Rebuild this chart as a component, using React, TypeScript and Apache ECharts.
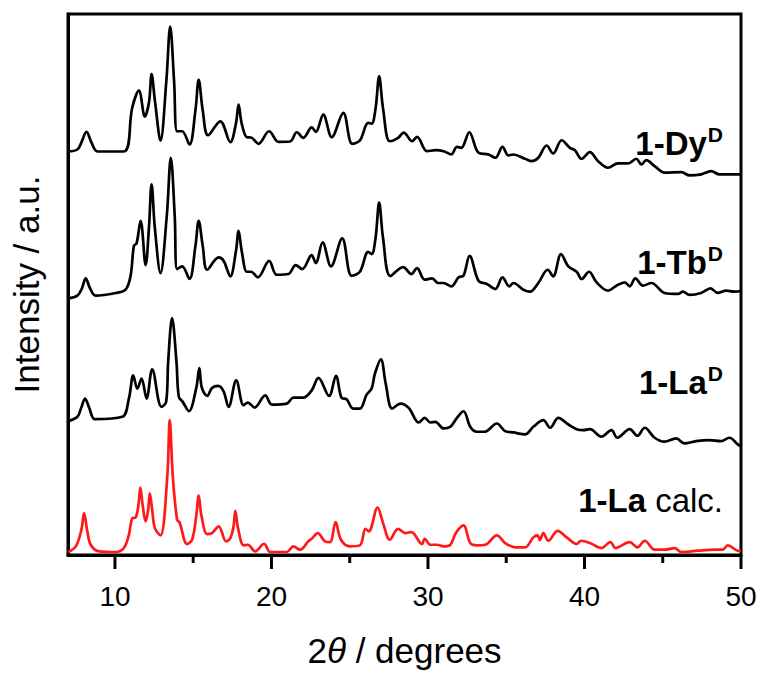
import { useEffect, useRef } from 'react';
import * as echarts from 'echarts';

const FONT = '"Liberation Sans", Arial, Helvetica, sans-serif';

// x-axis ticks (2θ / degrees)
const xMajorTicks = [10, 20, 30, 40, 50];
const xMinorTicks = [15, 25, 35, 45];

const seriesNames = ['1-La calc.', '1-La', '1-Tb', '1-Dy'];
const seriesColors = ['#ff1a1a', '#000000', '#000000', '#000000'];

// [2θ, intensity (a.u., vertically offset for stacking)]
const calcPattern: [number, number][] = [
  [7.0, 3], [7.5, 8.7], [7.85, 25], [8.03, 42], [8.22, 25], [8.45, 10.3], [8.98, 3.7], [10.05, 3],
  [10.57, 7], [10.89, 20.3], [11.11, 37], [11.32, 37.7], [11.5, 50], [11.62, 67.7], [11.77, 50],
  [11.96, 33.7], [12.12, 45], [12.23, 62], [12.38, 45], [12.55, 27], [12.91, 19.7], [13.34, 78],
  [13.5, 135.3], [13.7, 78], [13.97, 35.3], [14.12, 33], [14.61, 11], [14.93, 15.3], [15.2, 40],
  [15.35, 59.7], [15.52, 40], [15.89, 21], [16.2, 22], [16.63, 28.7], [17.1, 13.7], [17.37, 17],
  [17.57, 28], [17.69, 44.3], [17.85, 28], [18.22, 9.7], [18.49, 10.3], [18.96, 3.7], [19.53, 11.3],
  [19.92, 3], [20.98, 3], [21.4, 8.7], [21.83, 5.3], [22.36, 13.7], [22.57, 16.3], [22.96, 22],
  [23.42, 13.7], [23.74, 13], [24.1, 33], [24.44, 15.3], [25.01, 8.7], [25.65, 9.7], [26.01, 26.3],
  [26.22, 23.7], [26.78, 47.7], [27.13, 32], [27.56, 15.3], [28.09, 26.3], [28.56, 22], [28.94, 23],
  [29.62, 11], [29.79, 16.3], [30.15, 10.3], [30.58, 10.3], [31.0, 8.7], [31.43, 10.3], [31.78, 22],
  [32.27, 29.7], [32.7, 12], [33.12, 9.7], [33.66, 10.3], [34.4, 19.7], [34.93, 12], [35.57, 7.7],
  [36.2, 7.7], [36.73, 17.7], [37.0, 19.7], [37.15, 15], [37.37, 22], [37.69, 14.3], [38.28, 24.3],
  [38.86, 17.7], [39.5, 11], [39.78, 14.3], [40.35, 12], [41.08, 7], [41.66, 13], [41.98, 7],
  [42.89, 13], [43.38, 7.7], [43.85, 14.3], [44.48, 5.3], [45.12, 5.3], [45.76, 7], [46.18, 3],
  [47.24, 4.3], [48.3, 5.3], [48.83, 5.3], [49.15, 9.7], [49.79, 4.3], [50, 4],
];

const laPattern: [number, number][] = [
  [7.0, 134.3], [7.6, 138.7], [7.85, 148], [8.09, 157], [8.35, 148], [8.73, 136.3], [10.47, 138.7],
  [10.89, 157], [11.17, 180.3], [11.43, 167], [11.7, 177], [12.02, 157], [12.38, 186.3], [12.97, 148.7],
  [13.27, 153.7], [13.4, 194], [13.65, 237.7], [13.93, 194], [14.08, 158.7], [14.33, 153.7],
  [14.72, 144.3], [15.2, 168], [15.39, 187.7], [15.55, 168], [15.89, 159.7], [16.2, 167.7],
  [16.59, 169.7], [16.94, 164.3], [17.26, 148.7], [17.75, 175.3], [18.22, 150.3], [18.49, 153],
  [18.92, 148], [19.6, 160.3], [20.03, 151], [20.98, 152], [21.4, 158], [22.04, 158], [22.57, 165.3],
  [23.0, 177.7], [23.68, 159.7], [24.12, 179.7], [24.48, 157.7], [24.8, 156.3], [25.22, 147],
  [25.65, 147], [26.08, 161], [26.4, 167], [26.61, 182], [26.99, 196.3], [27.3, 172], [27.71, 147],
  [28.25, 152], [28.77, 147.7], [29.41, 133], [29.79, 137.7], [30.15, 133], [30.47, 133.7], [31.0, 127],
  [31.43, 128.7], [31.85, 137.7], [32.27, 144.3], [32.7, 128.7], [33.12, 123.7], [33.61, 123.7],
  [34.4, 132], [34.93, 124.3], [35.46, 123], [36.2, 121], [36.73, 128.7], [37.37, 135.3], [37.8, 127.7],
  [38.33, 137.7], [38.97, 131], [39.5, 126.3], [39.93, 125.3], [40.35, 126.3], [41.08, 118.7],
  [41.72, 125.3], [42.1, 117.7], [42.89, 126.3], [43.38, 119.7], [43.85, 127.7], [44.48, 117.7],
  [45.12, 113.7], [45.86, 117], [46.39, 112], [47.13, 114.3], [47.98, 115.3], [48.72, 114.3],
  [49.26, 117.7], [49.79, 111], [50, 109],
];

const tbPattern: [number, number][] = [
  [7.0, 257.7], [7.6, 260.3], [7.9, 268], [8.13, 277.7], [8.4, 268], [8.77, 260.3], [10.04, 263],
  [10.68, 266.3], [11.0, 280.3], [11.21, 310.3], [11.38, 312.7], [11.64, 335.3], [11.96, 291],
  [12.17, 328], [12.34, 372], [12.55, 328], [12.91, 283], [13.31, 340], [13.57, 398.7], [13.82, 340],
  [13.97, 287], [14.29, 289.7], [14.76, 277], [15.14, 310], [15.35, 335.3], [15.61, 310], [15.89, 286.3],
  [16.63, 298.7], [16.94, 295.3], [17.37, 279.7], [17.73, 305], [17.9, 325.3], [18.1, 305], [18.43, 284.3],
  [18.7, 284.3], [19.13, 278.7], [19.85, 295.3], [20.34, 281.3], [21.08, 282], [21.55, 291], [21.97, 287],
  [22.57, 301], [22.83, 293], [23.27, 313.7], [23.8, 289.7], [24.52, 317.7], [25.12, 280.3], [25.65, 284.3],
  [26.18, 304.3], [26.4, 302], [26.65, 318], [26.88, 353.7], [27.13, 318], [27.6, 280], [28.41, 289],
  [28.94, 282], [29.3, 288], [29.79, 276.3], [30.26, 277.7], [30.64, 273], [31.0, 273], [31.49, 269.7],
  [31.96, 278.7], [32.27, 280.3], [32.66, 300.3], [33.23, 275.3], [33.76, 272], [34.3, 267], [34.76, 278.7],
  [35.19, 269.7], [35.46, 273], [36.1, 266.3], [36.52, 264.3], [37.05, 273], [37.65, 286.3], [38.0, 279.7],
  [38.5, 302], [38.97, 289.7], [39.5, 284.3], [39.82, 277], [40.29, 284.3], [40.77, 273.7], [41.51, 265.3],
  [42.04, 270.3], [42.57, 273.7], [42.89, 269.7], [43.25, 277.7], [43.74, 270.3], [44.27, 273], [45.12, 263],
  [45.97, 262], [46.29, 264.3], [46.71, 261], [47.45, 263], [48.05, 267.7], [48.52, 263], [49.05, 265.3],
  [49.58, 264.3], [50, 265],
];

const dyPattern: [number, number][] = [
  [7.0, 405], [7.6, 407], [7.85, 414], [8.18, 424.7], [8.5, 414], [8.88, 405], [10.57, 405], [11.1, 448.7],
  [11.53, 466], [11.91, 440], [12.18, 455], [12.34, 482.7], [12.56, 455], [12.91, 416], [13.28, 475],
  [13.53, 530.3], [13.78, 475], [13.97, 425.3], [14.29, 425.3], [14.76, 412], [15.14, 446], [15.35, 477],
  [15.61, 446], [15.95, 421.3], [16.73, 435.3], [17.37, 414.3], [17.73, 433], [17.9, 452], [18.1, 433],
  [18.43, 419.3], [18.7, 419], [19.17, 412.7], [19.85, 425.3], [20.45, 414.7], [21.19, 415], [21.62, 424.3],
  [22.04, 418.7], [22.57, 429.3], [22.83, 424.7], [23.31, 442], [23.85, 419.3], [24.59, 443.7],
  [25.16, 412.7], [25.65, 416], [26.18, 433.7], [26.4, 433], [26.65, 448], [26.88, 480.3], [27.13, 448],
  [27.56, 415.3], [28.09, 418.7], [28.45, 424], [28.99, 415.3], [29.3, 419.7], [29.94, 405.3],
  [30.47, 406.3], [31.0, 405.3], [31.49, 402], [31.85, 409.7], [32.13, 408.7], [32.64, 424.3],
  [33.23, 403.7], [33.87, 402], [34.3, 398.7], [34.76, 409.7], [35.14, 401], [35.46, 402], [36.2, 397.7],
  [36.63, 395.3], [37.05, 398.7], [37.58, 411], [38.0, 403], [38.54, 416.3], [39.07, 408.7], [39.39, 406.3],
  [39.81, 397.7], [40.34, 404.3], [40.87, 395.3], [41.5, 388.7], [42.14, 393], [42.78, 393], [43.31, 397.7],
  [43.63, 392], [43.95, 396.3], [44.48, 390.3], [45.12, 383.7], [46.18, 384.3], [46.71, 381], [47.45, 382],
  [48.09, 385.3], [48.62, 382], [49.15, 382], [50, 382],
];

const patterns = [calcPattern, laPattern, tbPattern, dyPattern];

export default function App() {
  const ref = useRef<HTMLDivElement>(null);

  useEffect(() => {
    if (!ref.current) return;
    const chart = echarts.init(ref.current, null, { renderer: 'svg' });
    const supStyle = { fontSize: 21, fontWeight: 'bold', fontFamily: FONT, verticalAlign: 'top', lineHeight: 20, padding: [0, 0, 0, 1] };
    const boldStyle = { fontSize: 33, fontWeight: 'bold', fontFamily: FONT, lineHeight: 38 };
    const label = (text: string, y: number) => ({
      type: 'text',
      x: 723,
      y,
      style: {
        text,
        align: 'right',
        verticalAlign: 'middle',
        fill: '#000',
        rich: {
          b: boldStyle,
          s: supStyle,
          r: { fontSize: 33, fontFamily: FONT, lineHeight: 38 },
        },
      },
    });

    // tick marks drawn through the axis scale (major and minor lengths differ)
    const tickSeries = {
      type: 'custom',
      name: 'ticks',
      xAxisIndex: 0,
      yAxisIndex: 0,
      clip: false,
      silent: true,
      z: 6,
      data: [...xMajorTicks, ...xMinorTicks].map((v) => [v, 0]),
      renderItem: (_params: any, api: any) => {
        const v = api.value(0);
        const p = api.coord([v, 0]);
        const len = xMajorTicks.includes(v) ? 14 : 8;
        return {
          type: 'line',
          shape: { x1: p[0], y1: p[1], x2: p[0], y2: p[1] + len },
          style: { stroke: '#000', lineWidth: 3 },
        };
      },
    };

    chart.setOption({
      animation: false,
      backgroundColor: '#ffffff',
      textStyle: { fontFamily: FONT, color: '#000' },
      grid: {
        left: 68,
        right: 20,
        top: 14,
        bottom: 116,
        show: true,
        borderColor: '#000',
        borderWidth: 3,
        backgroundColor: 'transparent',
      },
      xAxis: {
        type: 'value',
        min: 7,
        max: 50,
        splitLine: { show: false },
        axisLine: { show: true, onZero: false, lineStyle: { color: '#000', width: 3 } },
        axisTick: { show: false },
        axisLabel: { show: true, customValues: xMajorTicks, fontSize: 28, color: '#000', margin: 27, fontFamily: FONT },
        name: '2{i|θ} / degrees',
        nameLocation: 'middle',
        nameGap: 78,
        nameTextStyle: {
          fontSize: 35,
          color: '#000',
          fontFamily: FONT,
          rich: { i: { fontStyle: 'italic', fontSize: 35, fontFamily: FONT } },
        },
      },
      yAxis: {
        type: 'value',
        min: 0,
        max: 543,
        axisLine: { show: true, onZero: false, lineStyle: { color: '#000', width: 3 } },
        axisTick: { show: false },
        axisLabel: { show: false },
        splitLine: { show: false },
        name: 'Intensity / a.u.',
        nameLocation: 'middle',
        nameGap: 24,
        nameTextStyle: { fontSize: 35, color: '#000', fontFamily: FONT },
      },
      series: [
        ...patterns.map((data, i) => ({
          name: seriesNames[i],
          type: 'line',
          data,
          showSymbol: false,
          smooth: 0.35,
          lineStyle: { color: seriesColors[i], width: 2.7 },
          itemStyle: { color: seriesColors[i] },
          z: 3,
        })),
        tickSeries,
      ],
      graphic: [
        label('{b|1-Dy}{s|D}', 143),
        label('{b|1-Tb}{s|D}', 262),
        label('{b|1-La}{s|D}', 382),
        label('{b|1-La}{r| calc.}', 500),
      ],
    });

    return () => chart.dispose();
  }, []);

  return (
    <div
      ref={ref}
      style={{ position: 'absolute', left: 0, top: 0, width: 761, height: 673, background: '#fff' }}
    />
  );
}
